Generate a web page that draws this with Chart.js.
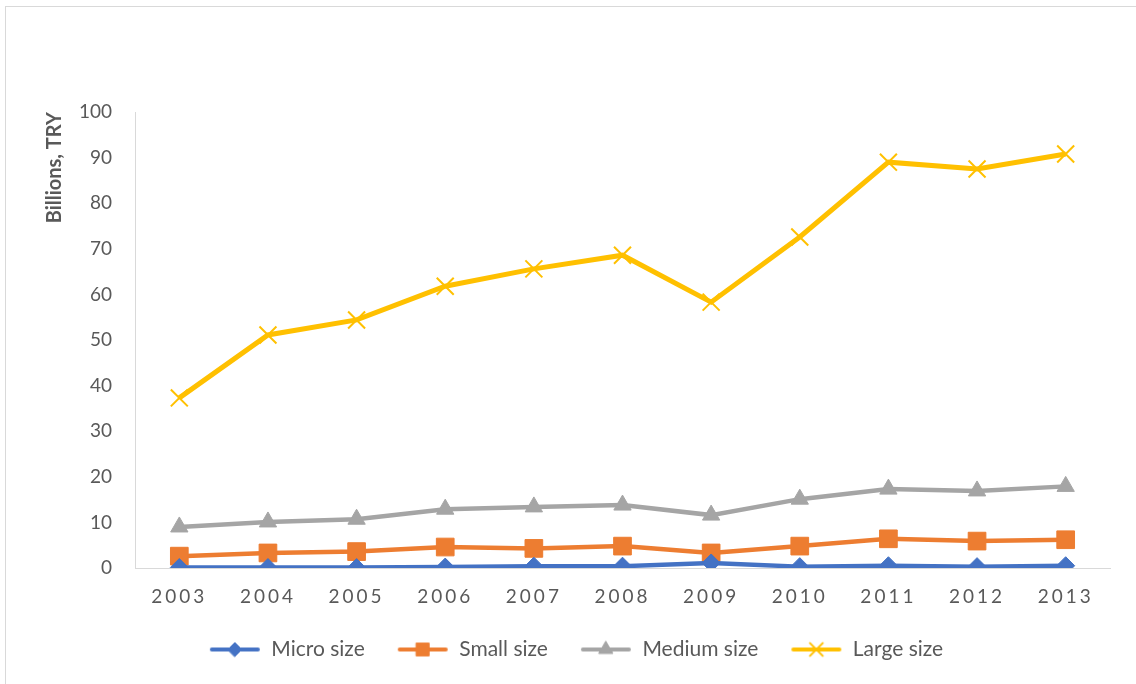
<!DOCTYPE html>
<html>
<head>
<meta charset="utf-8">
<script src="https://cdn.jsdelivr.net/npm/chart.js@4/dist/chart.umd.min.js"></script>
<style>
  html, body { margin: 0; padding: 0; background: #fff; }
  #frame { position: absolute; left: 5px; top: 6px; width: 1200px; height: 720px; border: 1px solid #d9d9d9; box-sizing: border-box; }
  #wrap { position: absolute; left: 0; top: 0; width: 1136px; height: 684px; }
</style>
</head>
<body>
<div id="frame"></div>
<div id="wrap"><canvas id="chart"></canvas></div>
<script>
const years = ["2003", "2004", "2005", "2006", "2007", "2008", "2009", "2010", "2011", "2012", "2013"];
const microSize = [0.1, 0.1, 0.1, 0.2, 0.4, 0.4, 1.1, 0.3, 0.5, 0.3, 0.5];
const smallSize = [2.6, 3.3, 3.6, 4.6, 4.3, 4.8, 3.3, 4.8, 6.4, 5.9, 6.2];
const mediumSize = [9.0, 10.1, 10.7, 12.9, 13.4, 13.8, 11.6, 15.1, 17.3, 16.9, 17.9];
const largeSize = [37.3, 51.1, 54.4, 61.8, 65.6, 68.6, 58.3, 72.6, 89.0, 87.5, 90.8];

const FONT = "Lato, 'Open Sans', sans-serif";
const TEXT = "#595959";

// legend icon: short line with the marker on top, like Excel
const legendIcon = (color, style, radius, borderWidth) => {
  const c = document.createElement("canvas");
  c.width = 52;
  c.height = 22;
  const g = c.getContext("2d");
  g.strokeStyle = color;
  g.lineWidth = 4;
  g.lineCap = "round";
  g.beginPath();
  g.moveTo(3, 11);
  g.lineTo(49, 11);
  g.stroke();
  g.fillStyle = color;
  g.strokeStyle = color;
  g.lineWidth = borderWidth;
  Chart.helpers.drawPoint(g, { pointStyle: style, radius: radius, borderWidth: borderWidth, rotation: 0 }, 26, 11);
  if (style !== "crossRot") g.fill();
  return c;
};

const series = [
  { label: "Micro size", data: microSize, color: "#4472C4", style: "rectRot", radius: 9, bw: 1, icon: 7 },
  { label: "Small size", data: smallSize, color: "#ED7D31", style: "rect", radius: 12.5, bw: 1, icon: 9 },
  { label: "Medium size", data: mediumSize, color: "#A5A5A5", style: "triangle", radius: 10, bw: 1, icon: 8 },
  { label: "Large size", data: largeSize, color: "#FFC000", style: "crossRot", radius: 12, bw: 2, icon: 9 },
];

// Excel spaces the year labels out a little
const spacedLabels = {
  id: "spacedLabels",
  afterUpdate(chart) {
    const sx = chart.scales.x;
    if (sx._spaced) return;
    const orig = sx.drawLabels;
    sx.drawLabels = function (area) {
      const c = this.ctx;
      c.save();
      c.letterSpacing = "3px";
      orig.call(this, area);
      c.restore();
    };
    sx._spaced = true;
  },
};

new Chart(document.getElementById("chart"), {
  type: "line",
  data: {
    labels: years,
    datasets: series.map((s) => ({
      label: s.label,
      data: s.data,
      borderColor: s.color,
      backgroundColor: s.color,
      borderWidth: s.style === "crossRot" ? 5 : 4.5,
      pointStyle: s.style,
      pointRadius: s.radius,
      pointHoverRadius: s.radius,
      pointBorderWidth: s.bw,
      pointBorderColor: s.color,
      pointBackgroundColor: s.color,
      tension: 0,
      fill: false,
      icon: legendIcon(s.color, s.style, s.icon, s.bw),
    })),
  },
  options: {
    responsive: true,
    maintainAspectRatio: false,
    animation: false,
    layout: { padding: { left: 42, top: 112, right: 26, bottom: 14 } },
    plugins: {
      tooltip: { enabled: false },
      legend: {
        position: "bottom",
        labels: {
          usePointStyle: true,
          pointStyleWidth: 52,
          padding: 32,
          color: TEXT,
          font: { family: FONT, size: 21 },
          generateLabels: (chart) =>
            chart.data.datasets.map((ds, i) => ({
              text: ds.label,
              fillStyle: ds.borderColor,
              strokeStyle: ds.borderColor,
              lineWidth: 0,
              pointStyle: ds.icon,
              fontColor: TEXT,
              hidden: false,
              datasetIndex: i,
            })),
        },
      },
    },
    scales: {
      x: {
        offset: true,
        grid: { display: false, drawTicks: false },
        border: { display: true, color: "#d9d9d9", width: 1 },
        ticks: { color: TEXT, padding: 17, font: { family: FONT, size: 19 }, maxRotation: 0 },
        afterFit: (scale) => { scale.height = 39; },
      },
      y: {
        min: 0,
        max: 100,
        grid: { display: false, drawTicks: false },
        border: { display: true, color: "#d9d9d9", width: 1 },
        ticks: { stepSize: 10, color: TEXT, padding: 23, font: { family: FONT, size: 19 } },
        title: {
          display: true,
          text: "Billions, TRY",
          align: "end",
          color: TEXT,
          font: { family: FONT, size: 20, weight: "bold" },
          padding: { top: 1, bottom: 0 },
        },
        afterFit: (scale) => { scale.width = 93; },
      },
    },
  },
  plugins: [spacedLabels],
});
</script>
</body>
</html>
